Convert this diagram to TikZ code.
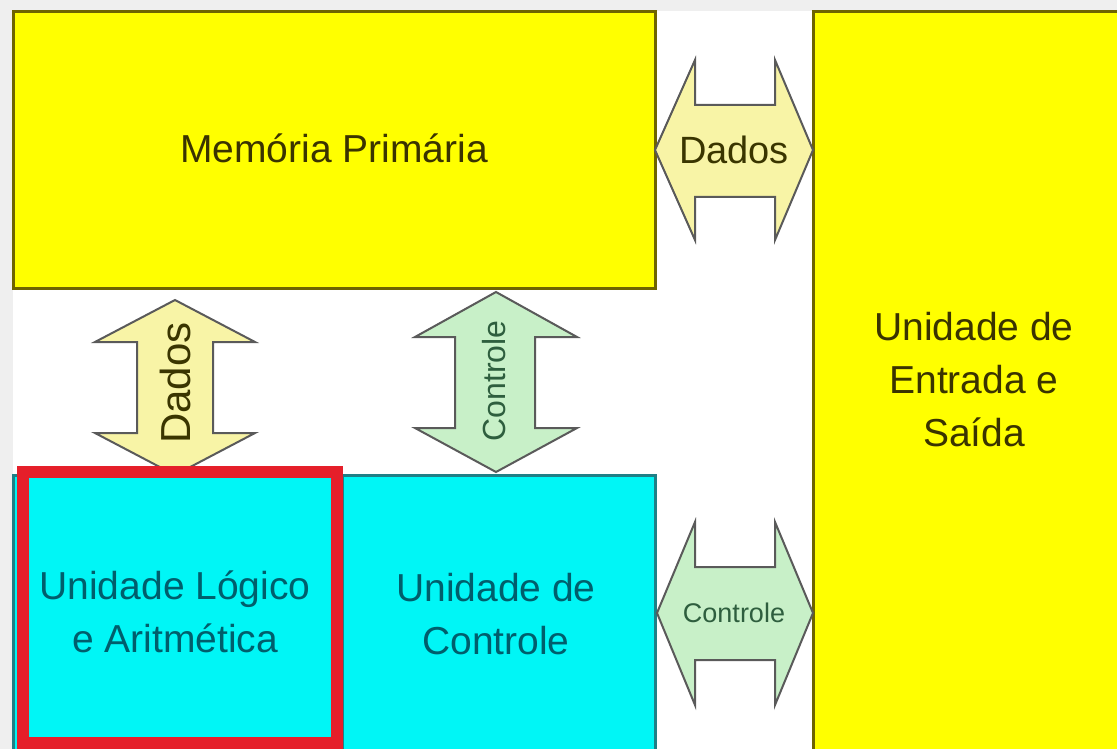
\documentclass[tikz,border=0pt]{standalone}
\usepackage{fontspec}
\setmainfont{Liberation Sans}
\definecolor{bggrey}{HTML}{EFEFEF}
\definecolor{yfill}{HTML}{FFFF00}
\definecolor{yborder}{HTML}{6E6400}
\definecolor{ytext}{HTML}{3A3300}
\definecolor{cfill}{HTML}{00F6F6}
\definecolor{cborder}{HTML}{1F7F86}
\definecolor{ctext}{HTML}{005E6C}
\definecolor{redc}{HTML}{E51F2A}
\definecolor{dfill}{HTML}{F8F4A6}
\definecolor{gfill}{HTML}{C8F0C8}
\definecolor{astroke}{HTML}{5A5A5A}
\definecolor{dtext}{HTML}{3A3500}
\definecolor{gtext}{HTML}{2E5E3E}
\begin{document}
\begin{tikzpicture}[x=1pt,y=-1pt,
  ybox/.style={draw=yborder, fill=yfill, line width=3pt, inner sep=0pt, outer sep=0pt, anchor=north west},
  cbox/.style={draw=cborder, fill=cfill, line width=3pt, inner sep=0pt, outer sep=0pt, anchor=north west},
  hlbox/.style={draw=redc, line width=12pt, inner sep=0pt, outer sep=0pt, anchor=north west},
  ylabel/.style={text=ytext, font=\fontsize{39}{53}\selectfont, align=center},
  clabel/.style={text=ctext, font=\fontsize{39}{53}\selectfont, align=center},
  darrow/.style={draw=astroke, fill=dfill, line width=2pt},
  garrow/.style={draw=astroke, fill=gfill, line width=2pt},
  dlabel/.style={text=dtext, inner sep=0pt},
  glabel/.style={text=gtext, inner sep=0pt}
]
\useasboundingbox (0,0) rectangle (1117,749);
\fill[bggrey] (0,0) rectangle (1117,749);
\fill[white] (13,11) rectangle (1117,749);
\begin{scope}
\clip (0,0) rectangle (1117,749);
% boxes
\node[ybox, minimum width=642pt, minimum height=276pt] (mem) at (13,12) {};
\node[ybox, minimum width=330pt, minimum height=760pt] (io) at (813,12) {};
\node[cbox, minimum width=329pt, minimum height=290pt] (alu) at (13,475) {};
\node[cbox, minimum width=313pt, minimum height=290pt] (cu) at (342,475) {};

% vertical Dados arrow (mem <-> alu)
\draw[darrow] (175,300) -- (255,342) -- (213,342) -- (213,433) -- (255,433) -- (175,475)
  -- (95,433) -- (137,433) -- (137,342) -- (95,342) -- cycle;
% vertical Controle arrow (mem <-> cu)
\draw[garrow] (496,292) -- (577,337) -- (535,337) -- (535,428) -- (577,428) -- (496,472)
  -- (415,428) -- (455,428) -- (455,337) -- (415,337) -- cycle;
% horizontal Dados arrow (mem <-> io)
\draw[darrow] (655,150) -- (695,60) -- (695,105) -- (775,105) -- (775,60) -- (813,150)
  -- (775,240) -- (775,197) -- (695,197) -- (695,240) -- cycle;
% horizontal Controle arrow (cu <-> io)
\draw[garrow] (657,613) -- (695,522) -- (695,567) -- (775,567) -- (775,522) -- (813,613)
  -- (775,705) -- (775,660) -- (695,660) -- (695,705) -- cycle;

% highlight around ALU
\node[hlbox, minimum width=314pt, minimum height=271pt] (hl) at (23,472) {};
\end{scope}

% labels
\node[ylabel] (memt) at (334,148) {Memória Primária};
\node[ylabel] (iot) at (974,380) {Unidade de\\Entrada e\\Saída};
\node[clabel] (alut) at (175,612) {Unidade Lógico\\e Aritmética};
\node[clabel] (cut) at (496,614) {Unidade de\\Controle};
\node[dlabel, rotate=90, font=\fontsize{42}{48}\selectfont] (dv) at (175,383) {Dados};
\node[glabel, rotate=90, font=\fontsize{32}{38}\selectfont] (cv) at (494,381) {Controle};
\node[dlabel, font=\fontsize{38}{44}\selectfont] (dh) at (734,150) {Dados};
\node[glabel, font=\fontsize{27}{32}\selectfont] (ch) at (734,613) {Controle};
\end{tikzpicture}
\end{document}
